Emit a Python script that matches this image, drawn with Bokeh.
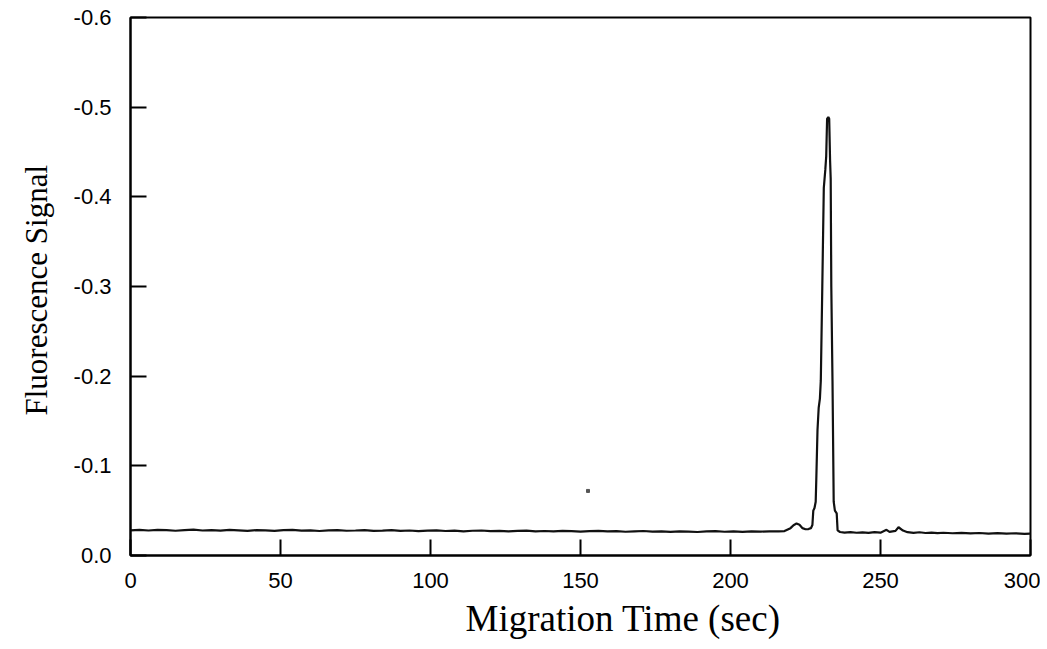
from bokeh.plotting import figure
from bokeh.models import Range1d, FixedTicker, Title, CustomJSTickFormatter
from bokeh.embed import file_html
from bokeh.resources import INLINE

# Migration time (sec) and fluorescence signal (signal is negative)
time_sec = [
    0, 3, 6, 9, 12, 15, 18, 21, 24, 27, 30, 33, 36, 39, 42, 45, 48, 51, 54, 57,
    60, 63, 66, 69, 72, 75, 78, 81, 84, 87, 90, 93, 96, 99, 102, 105, 108, 111, 114, 117,
    120, 123, 126, 129, 132, 135, 138, 141, 144, 147, 150, 153, 156, 159, 162, 165, 168, 171, 174, 177,
    180, 183, 186, 189, 192, 195, 198, 201, 204, 207, 210, 213, 216, 218, 220, 221, 222, 223, 224, 225,
    226, 226.8, 227.3, 227.6, 228.0, 228.4, 228.6, 229.0, 229.4, 229.8, 230.1, 230.6, 231.1, 231.6, 231.9, 232.2, 232.6, 232.9,
    233.2, 233.4, 233.6, 234.0, 234.4, 234.8, 235.4, 235.7, 236.5,
    238, 240, 242, 244, 246, 248, 250, 252, 253, 255, 256, 257.5, 259, 261, 263, 265, 267, 269, 271, 274,
    277, 280, 283, 286, 289, 292, 295, 298, 300,
]
signal = [
    -0.0280, -0.0286, -0.0279, -0.0285, -0.0282, -0.0276, -0.0284, -0.0288, -0.0279, -0.0283,
    -0.0277, -0.0285, -0.0281, -0.0275, -0.0283, -0.0280, -0.0274, -0.0282, -0.0286, -0.0278,
    -0.0281, -0.0273, -0.0280, -0.0284, -0.0276, -0.0279, -0.0283, -0.0275, -0.0278, -0.0282,
    -0.0274, -0.0279, -0.0272, -0.0278, -0.0281, -0.0273, -0.0277, -0.0270, -0.0276, -0.0279,
    -0.0272, -0.0275, -0.0269, -0.0274, -0.0277, -0.0270, -0.0273, -0.0268, -0.0274, -0.0271,
    -0.0266, -0.0272, -0.0275, -0.0268, -0.0271, -0.0265, -0.0270, -0.0273, -0.0266, -0.0269,
    -0.0264, -0.0270, -0.0267, -0.0262, -0.0268, -0.0271, -0.0265, -0.0268, -0.0263, -0.0269,
    -0.0266, -0.0270, -0.0268, -0.0272, -0.0305, -0.0338, -0.0356, -0.0342, -0.0305, -0.0293,
    -0.0295, -0.0305, -0.0340, -0.0500, -0.0530, -0.0600, -0.0850, -0.1400, -0.1650, -0.1750,
    -0.1950, -0.3000, -0.4100, -0.4300, -0.4450, -0.4870, -0.4890, -0.4870,
    -0.4400, -0.4200, -0.3000, -0.1950, -0.0600, -0.0500, -0.0470, -0.0280, -0.0262,
    -0.0256, -0.0260, -0.0254, -0.0258, -0.0253, -0.0261, -0.0255, -0.0286, -0.0264, -0.0275,
    -0.0315, -0.0278, -0.0260, -0.0252, -0.0259, -0.0251, -0.0256, -0.0249, -0.0254, -0.0248,
    -0.0253, -0.0247, -0.0251, -0.0245, -0.0249, -0.0243, -0.0248, -0.0242, -0.0244,
]

# a stray speck on the scanned figure
speck_t = [152.5]
speck_v = [-0.072]

x_ticks = [0, 50, 100, 150, 200, 250, 300]
y_ticks = [0.0, -0.1, -0.2, -0.3, -0.4, -0.5, -0.6]
x_title = "Migration Time (sec)"
y_title = "Fluorescence Signal"

p = figure(width=1040, height=649, output_backend="svg", toolbar_location=None,
           x_range=Range1d(0, 300), y_range=Range1d(0, -0.6),
           min_border_left=129, min_border_right=10, min_border_top=17, min_border_bottom=94)

p.background_fill_color = "white"
p.border_fill_color = "white"
p.outline_line_color = "black"
p.outline_line_width = 2
p.xgrid.visible = False
p.ygrid.visible = False

p.line(time_sec, signal, line_color="#111111", line_width=2.2)
p.scatter(speck_t, speck_v, size=3, color="#555555", marker="square")

for ax in (p.xaxis, p.yaxis):
    ax.axis_line_color = "black"
    ax.axis_line_width = 2
    ax.major_tick_in = 16
    ax.major_tick_out = 0
    ax.major_tick_line_width = 2
    ax.major_tick_line_color = "black"
    ax.minor_tick_line_color = None
    ax.major_label_text_font = "Liberation Sans"
    ax.major_label_text_font_size = "22px"
    ax.major_label_text_color = "black"

p.xaxis.ticker = FixedTicker(ticks=x_ticks)
p.yaxis.ticker = FixedTicker(ticks=y_ticks)
p.xaxis.formatter = CustomJSTickFormatter(code="return tick.toFixed(0);")
p.yaxis.formatter = CustomJSTickFormatter(code="return tick.toFixed(1);")
p.xaxis.major_label_standoff = 17
p.yaxis.major_label_standoff = 19

xt = Title(text=x_title, align="left", offset=335, standoff=10,
           text_font="Liberation Serif", text_font_size="37px", text_font_style="normal",
           text_color="black")
p.add_layout(xt, "below")

yt = Title(text=y_title, align="left", offset=140, standoff=33,
           text_font="Liberation Serif", text_font_size="31px", text_font_style="normal",
           text_color="black")
p.add_layout(yt, "left")

open("out.html", "w").write(file_html(p, INLINE))
